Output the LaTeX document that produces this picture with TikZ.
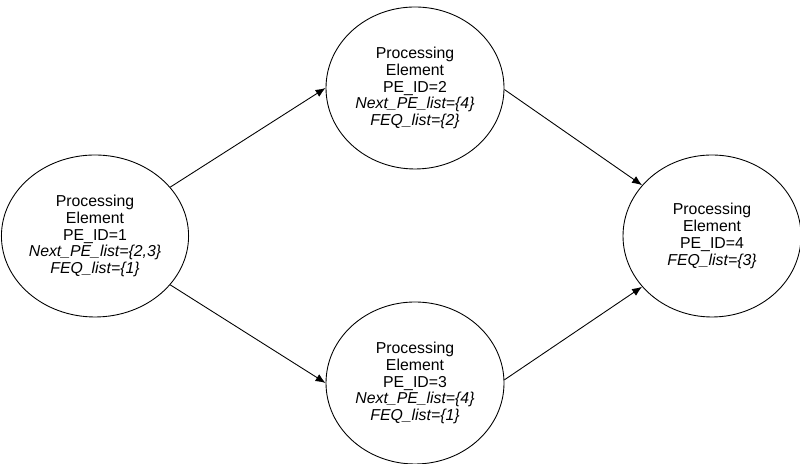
\documentclass[tikz,border=0pt]{standalone}
\usepackage{fontspec}
\setmainfont{Liberation Sans}
\usetikzlibrary{arrows.meta,shapes}

\begin{document}
\begin{tikzpicture}[
    pe/.style={ellipse, draw, line width=0.5pt, minimum width=3.56cm, minimum height=3.24cm, inner sep=0pt, align=center, font=\fontsize{9}{9.6}\selectfont},
    arrow/.style={-{Latex[length=2mm,width=1.6mm]}, line width=0.5pt}
]
\useasboundingbox (0,0) rectangle (16,9.28);

\node[pe] (pe1) at (1.9,4.56) {Processing\\Element\\PE\_ID=1\\\textit{Next\_PE\_list=\{2,3\}}\\\textit{FEQ\_list=\{1\}}};
\node[pe] (pe2) at (8.3,7.52) {Processing\\Element\\PE\_ID=2\\\textit{Next\_PE\_list=\{4\}}\\\textit{FEQ\_list=\{2\}}};
\node[pe] (pe3) at (8.3,1.62) {Processing\\Element\\PE\_ID=3\\\textit{Next\_PE\_list=\{4\}}\\\textit{FEQ\_list=\{1\}}};
\node[pe] (pe4) at (14.24,4.56) {Processing\\Element\\PE\_ID=4\\\textit{FEQ\_list=\{3\}}};

\draw[arrow] (pe1.33) -- (pe2.180);
\draw[arrow] (pe1.-33) -- (pe3.180);
\draw[arrow] (pe2.-1) -- (pe4.144);
\draw[arrow] (pe3.2) -- (pe4.216);
\end{tikzpicture}
\end{document}
